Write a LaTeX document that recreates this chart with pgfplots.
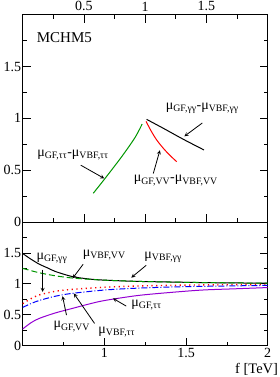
\documentclass[border=0pt]{standalone}
\usepackage{fontspec}
\setmainfont{Liberation Serif}
\usepackage{pgfplots}
\pgfplotsset{compat=1.18}
\definecolor{ggreen}{RGB}{0,150,0}
\definecolor{gviolet}{RGB}{148,0,211}
\begin{document}
\begin{tikzpicture}
\path[use as bounding box] (-22.7pt,-31.3pt) rectangle (256.3pt,345.7pt);
\pgfplotsset{
  every axis/.style={
    scale only axis, width=245pt,
    /pgf/number format/assume math mode=true,
    tick label style={font=\fontsize{14}{16}\selectfont},
    major tick length=8pt, minor tick length=4pt,
    tick style={black, line width=0.7pt},
    axis line style={line width=0.9pt},
    ymin=0, ymax=2,
    ytick={0,0.5,1,1.5}, yticklabels={0,0.5,1,1.5},
    minor ytick={0.25,0.75,1.25,1.75},
    ytick pos=both, yticklabel pos=left,
    yticklabel style={xshift=2pt},
    clip=false,
  },
}
% bottom panel
\begin{axis}[at={(0,0)}, anchor=south west, height=123.7pt,
  xmin=0.5, xmax=2,
  xtick={1,1.5,2}, xticklabels={1,1.5,2},
  minor xtick={0.75,1.25,1.75},
  xtick pos=bottom,
  xticklabel style={yshift=1pt},
]
\addplot[black, line width=1pt, smooth] coordinates {(0.5,1.49)(0.55,1.40)(0.6,1.32)(0.65,1.26)(0.7,1.20)(0.8,1.12)(0.9,1.08)(1.0,1.06)(1.2,1.04)(1.4,1.03)(1.6,1.02)(1.8,1.015)(2.0,1.01)};
\addplot[ggreen, line width=1pt, dash pattern=on 6pt off 3pt, smooth] coordinates {(0.5,1.25)(0.6,1.18)(0.7,1.13)(0.8,1.095)(0.9,1.075)(1.0,1.06)(1.2,1.04)(1.5,1.025)(2,1.01)};
\addplot[red, line width=1.4pt, dash pattern=on 1.2pt off 3.5pt, smooth] coordinates {(0.5,0.68)(0.55,0.76)(0.6,0.82)(0.7,0.88)(0.8,0.91)(1.0,0.945)(1.2,0.965)(1.5,0.98)(2,0.99)};
\addplot[blue, line width=1pt, dash pattern=on 6pt off 2pt on 1pt off 2pt, smooth] coordinates {(0.5,0.62)(0.55,0.68)(0.6,0.73)(0.7,0.80)(0.8,0.845)(1.0,0.9)(1.2,0.93)(1.5,0.955)(2,0.975)};
\addplot[gviolet, line width=1pt, smooth] coordinates {(0.5,0.27)(0.55,0.37)(0.6,0.44)(0.7,0.53)(0.8,0.6)(0.9,0.67)(1.0,0.73)(1.2,0.81)(1.4,0.86)(1.6,0.9)(1.8,0.92)(2.0,0.94)};
\begin{scope}[font=\fontsize{14}{15}\selectfont]
\node at (axis cs:0.679,1.414) {μ\textsubscript{GF,γγ}};
\node at (axis cs:0.999,1.46) {μ\textsubscript{VBF,VV}};
\node at (axis cs:1.36,1.43) {μ\textsubscript{VBF,γγ}};
\node at (axis cs:1.258,0.656) {μ\textsubscript{GF,ττ}};
\node at (axis cs:0.80,0.31) {μ\textsubscript{GF,VV}};
\node at (axis cs:1.076,0.226) {μ\textsubscript{VBF,ττ}};
\end{scope}
\draw[-stealth, line width=0.8pt] (axis cs:0.622,1.23) -- (axis cs:0.622,0.87);
\draw[-stealth, line width=0.8pt] (axis cs:0.87,1.317) -- (axis cs:0.805,1.087);
\draw[-stealth, line width=0.8pt] (axis cs:1.256,1.30) -- (axis cs:1.165,1.10);
\draw[-stealth, line width=0.8pt] (axis cs:1.134,0.64) -- (axis cs:1.053,0.765);
\draw[-stealth, line width=0.8pt] (axis cs:0.768,0.495) -- (axis cs:0.744,0.80);
\draw[-stealth, line width=0.8pt] (axis cs:0.94,0.36) -- (axis cs:0.813,0.845);
\node[anchor=north east, font=\fontsize{14.5}{15}\selectfont, inner sep=0pt] at (255.5pt,-17pt) {f [TeV]};
\end{axis}
% top panel
\begin{axis}[at={(0,123.7pt)}, anchor=south west, height=207.3pt,
  xmin=0, xmax=2,
  xtick={0.5,1,1.5}, xticklabels={0.5,1,1.5},
  minor xtick={0.25,0.75,1.25,1.75},
  xtick pos=both, xticklabel pos=upper,
]
\addplot[ggreen, line width=1pt, smooth] coordinates {(0.576,0.277)(0.672,0.42)(0.808,0.63)(0.917,0.815)(0.975,0.945)};
\addplot[red, line width=1pt, smooth] coordinates {(1.007,0.97)(1.05,0.875)(1.094,0.791)(1.148,0.711)(1.2,0.645)(1.257,0.582)};
\addplot[black, line width=1pt, smooth] coordinates {(1.012,0.99)(1.148,0.904)(1.311,0.798)(1.48,0.695)};
\begin{scope}[font=\fontsize{14}{15}\selectfont]
\node at (axis cs:0.34,1.78) {\fontsize{15}{16}\selectfont MCHM5};
\node at (axis cs:1.466,1.096) {μ\textsubscript{GF,γγ}-μ\textsubscript{VBF,γγ}};
\node at (axis cs:0.41,0.645) {μ\textsubscript{GF,ττ}-μ\textsubscript{VBF,ττ}};
\node at (axis cs:1.25,0.40) {μ\textsubscript{GF,VV}-μ\textsubscript{VBF,VV}};
\end{scope}
\draw[-stealth, line width=0.8pt] (axis cs:1.466,0.955) -- (axis cs:1.32,0.827);
\draw[-stealth, line width=0.8pt] (axis cs:0.474,0.548) -- (axis cs:0.666,0.42);
\draw[-stealth, line width=0.8pt] (axis cs:1.066,0.468) -- (axis cs:1.12,0.692);
\end{axis}
\end{tikzpicture}
\end{document}
